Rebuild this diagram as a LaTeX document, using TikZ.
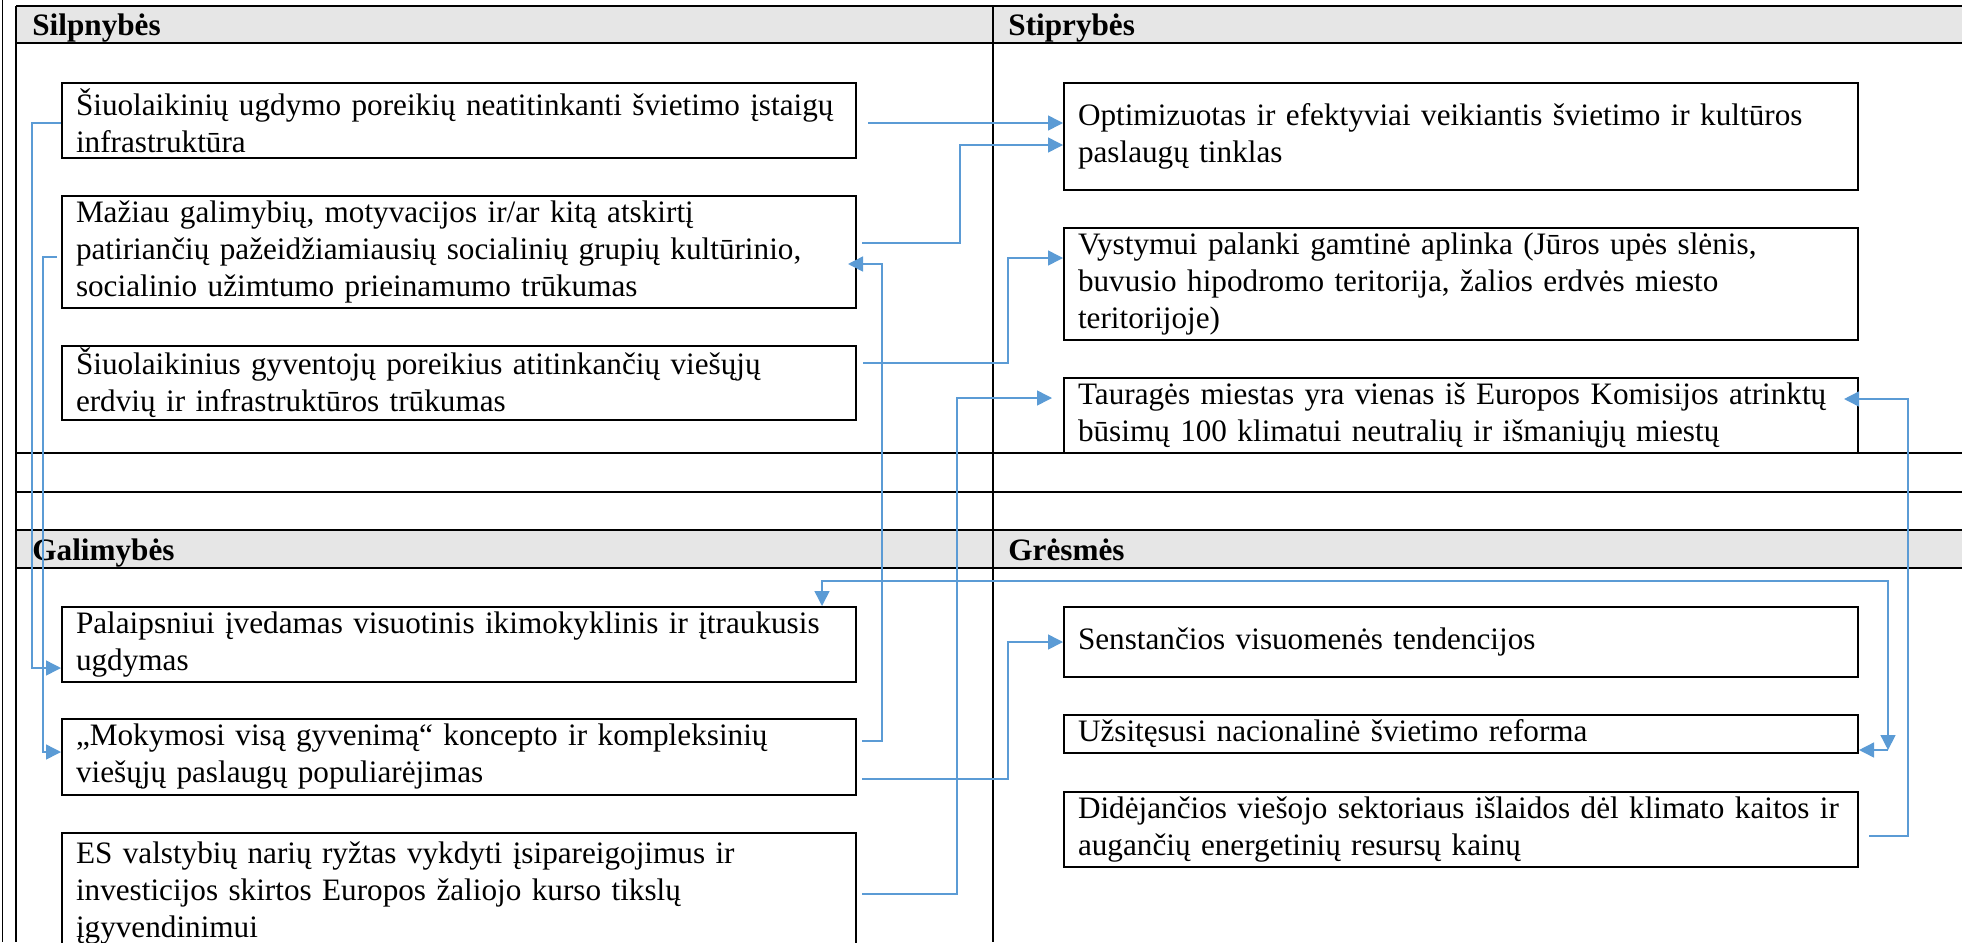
\documentclass[tikz,border=0pt]{standalone}
\usepackage{fontspec}
\setmainfont{Liberation Serif}
\usetikzlibrary{arrows.meta,positioning}
\definecolor{swotBlue}{HTML}{5B9BD5}
\definecolor{swotHead}{HTML}{E6E6E6}
\tikzset{
  >={Triangle[length=7.5pt,width=7.5pt]},
  item/.style={draw=black, line width=1pt, fill=white, anchor=north west,
              minimum width=397pt, text width=391pt, inner xsep=3pt, inner ysep=0pt,
              align=left, font=\fontsize{15.6}{18.5}\selectfont,
              execute at begin node={\leftskip=4pt\hyphenpenalty=10000}},
  head/.style={anchor=base west, inner sep=0pt, font=\fontsize{15.6}{18.5}\selectfont\bfseries},
  grid/.style={draw=black, line width=1pt},
  link/.style={->, draw=swotBlue, line width=0.75pt},
}
\begin{document}
\begin{tikzpicture}[x=0.5pt,y=-0.5pt]
        \useasboundingbox (0,0) rectangle (1962,942);
        \clip (0,0) rectangle (1962,942);
        \fill[swotHead] (16,6) rectangle (1962,43);
        \fill[swotHead] (16,530) rectangle (1962,568);
        \foreach \y in {6,43,453,492,530,568} \draw[grid] (16,\y) -- (1962,\y);
        \draw[grid] (16,6) -- (16,942);
        \draw[grid] (993,6) -- (993,942);
        \draw[line width=0.5pt] (2,0) -- (2,942);
        \node[head] (hw) at (32,35) {Silpnybės};
        \node[head] (hs) at (1008,35) {Stiprybės};
        \node[head] (ho) at (32,560) {Galimybės};
        \node[head] (ht) at (1008,560) {Grėsmės};
        \node[item,minimum height=37.5pt] (w1) at (61,82) {Šiuolaikinių ugdymo poreikių neatitinkanti švietimo įstaigų\\infrastruktūra};
        \node[item,minimum height=56pt] (w2) at (61,195) {Mažiau galimybių, motyvacijos ir/ar kitą atskirtį\\patiriančių pažeidžiamiausių socialinių grupių kultūrinio,\\socialinio užimtumo prieinamumo trūkumas};
        \node[item,minimum height=37pt] (w3) at (61,345) {Šiuolaikinius gyventojų poreikius atitinkančių viešųjų\\erdvių ir infrastruktūros trūkumas};
        \node[item,minimum height=53.5pt] (s1) at (1063,82) {Optimizuotas ir efektyviai veikiantis švietimo ir kultūros\\paslaugų tinklas};
        \node[item,minimum height=56pt] (s2) at (1063,227) {Vystymui palanki gamtinė aplinka (Jūros upės slėnis,\\buvusio hipodromo teritorija, žalios erdvės miesto\\teritorijoje)};
        \node[item,minimum height=37.5pt] (s3) at (1063,377) {Tauragės miestas yra vienas iš Europos Komisijos atrinktų\\būsimų 100 klimatui neutralių ir išmaniųjų miestų};
        \node[item,minimum height=37.5pt] (g1) at (61,606) {Palaipsniui įvedamas visuotinis ikimokyklinis ir įtraukusis\\ugdymas};
        \node[item,minimum height=38pt] (g2) at (61,718) {„Mokymosi visą gyvenimą“ koncepto ir kompleksinių\\viešųjų paslaugų populiarėjimas};
        \node[item,minimum height=60pt] (g3) at (61,832) {ES valstybių narių ryžtas vykdyti įsipareigojimus ir\\investicijos skirtos Europos žaliojo kurso tikslų\\įgyvendinimui};
        \node[item,minimum height=35pt] (t1) at (1063,606) {Senstančios visuomenės tendencijos};
        \node[item,minimum height=19pt] (t2) at (1063,714) {Užsitęsusi nacionalinė švietimo reforma};
        \node[item,minimum height=37.5pt] (t3) at (1063,791) {Didėjančios viešojo sektoriaus išlaidos dėl klimato kaitos ir\\augančių energetinių resursų kainų};
        \draw[link,shorten <=5.5pt] (w1.east |- 0,123) -- (s1.west |- 0,123);
        \draw[link,shorten <=2.5pt] (w2.east |- 0,243) -| (960,145) -- (s1.west |- 0,145);
        \draw[link,shorten <=3pt] (w3.east |- 0,363) -| (1008,258) -- (s2.west |- 0,258);
        \draw[link,shorten <=2.5pt,shorten >=5.5pt] (g3.east |- 0,894) -| (957,398) -- (s3.west |- 0,398);
        \draw[link,shorten <=2.5pt,shorten >=-4.5pt] (g2.east |- 0,741) -| (882,264) -- (w2.east |- 0,264);
        \draw[link] (w1.west |- 0,123) -| (32,668) -- (g1.west |- 0,668);
        \draw[link,shorten <=2pt] (w2.west |- 0,257) -| (43,752) -- (g2.west |- 0,752);
        \draw[link,shorten <=2.5pt] (g2.east |- 0,779) -| (1008,642) -- (t1.west |- 0,642);
        \draw[link,shorten <=5pt,shorten >=-7.5pt] (t3.east |- 0,836) -| (1908,399) -- (s3.east |- 0,399);
        \coordinate (bend) at (1888,750);
        \draw[link,<->] (g1.north -| 822,0) |- (1888,581) -- (bend);
        \draw[link] (bend) -- (t2.east |- bend);
      \end{tikzpicture}
\end{document}
